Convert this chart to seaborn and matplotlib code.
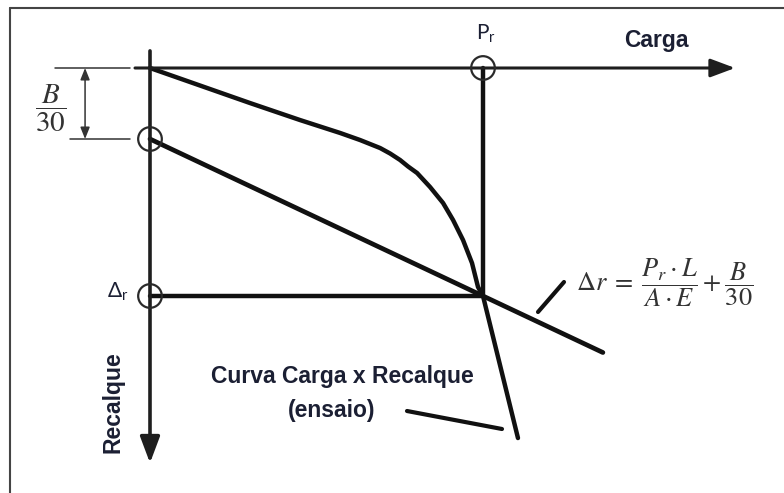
import numpy as np
import pandas as pd
import matplotlib
matplotlib.use("Agg")
import matplotlib.pyplot as plt
from matplotlib.lines import Line2D
import seaborn as sns

# --- data -------------------------------------------------------------
# load test curve (load, settlement), settlement positive downward
carga = [0.0, 30.0, 45.0, 57.1, 63.1, 69.1, 72.1, 75.1, 77.5, 80.2, 84.1,
         88.0, 91.0, 94.0, 96.7, 98.5, 100.0, 105.1, 110.5]
recalque = [0.0, 3.07, 4.56, 5.70, 6.32, 7.02, 7.50, 8.07, 8.64, 9.21, 10.44,
            11.84, 13.33, 15.09, 17.11, 19.21, 20.0, 26.05, 32.46]

P_r = 100.0          # rupture load
delta_r = 20.0       # settlement at rupture
b_30 = 6.23          # B/30 offset
reta_fim = 136.0     # where the offset line stops

curva = pd.DataFrame({"carga": carga, "recalque": recalque})
reta = pd.DataFrame({
    "carga": [0.0, P_r, reta_fim],
    "recalque": [b_30, delta_r, b_30 + (delta_r - b_30) * reta_fim / P_r],
})

# --- figure -----------------------------------------------------------
sns.set_theme(style="white")
plt.rcParams["font.family"] = ["Liberation Sans", "DejaVu Sans"]

W, H = 784, 493
fig = plt.figure(figsize=(W / 100, H / 100), dpi=100)
ax = fig.add_axes([0, 0, 1, 1])
sx, sy = 3.33, 11.4          # pixels per unit of load / settlement
ox, oy = 150, 68             # origin of the diagram
ax.set_xlim(-ox / sx, (W - ox) / sx)
ax.set_ylim((H - oy) / sy, -oy / sy)
ax.axis("off")

INK = "#111111"
TXT = "#1b1f33"

# axes with arrows
ax.annotate("", xy=(175.7, 0), xytext=(-4.5, 0),
            arrowprops=dict(arrowstyle="-|>,head_length=0.75,head_width=0.28",
                            mutation_scale=20, lw=2.2, color="#1e1e1e",
                            shrinkA=0, shrinkB=0))
ax.annotate("", xy=(0, 34.65), xytext=(0, -1.5),
            arrowprops=dict(arrowstyle="-|>,head_length=0.8,head_width=0.3",
                            mutation_scale=20, lw=2.6, color="#1e1e1e",
                            shrinkA=0, shrinkB=0))

# rupture load and settlement guides
sns.lineplot(x=[P_r, P_r], y=[0, delta_r], ax=ax, color=INK, lw=3.2,
             sort=False, estimator=None)
sns.lineplot(x=[0, P_r], y=[delta_r, delta_r], ax=ax, color=INK, lw=3.2,
             sort=False, estimator=None)

# offset line and measured curve
sns.lineplot(data=reta, x="carga", y="recalque", ax=ax, color=INK, lw=3.4,
             sort=False, estimator=None)
sns.lineplot(data=curva, x="carga", y="recalque", ax=ax, color=INK, lw=3.2,
             sort=False, estimator=None)
for ln in ax.get_lines():
    ln.set_solid_joinstyle("round")

# circled points
pts = pd.DataFrame({"carga": [0.0, 0.0, P_r], "recalque": [b_30, delta_r, 0.0]})
ax.scatter(pts["carga"], pts["recalque"], s=290, facecolors="none",
           edgecolors="#2a2a2a", linewidths=1.6, zorder=5)

# B/30 dimension
dim = dict(color="#333333", lw=1.1)
ax.plot([-28.5, -6.0], [0, 0], **dim)
ax.plot([-24.0, -6.0], [b_30, b_30], **dim)
ax.annotate("", xy=(-19.5, 0), xytext=(-19.5, b_30),
            arrowprops=dict(arrowstyle="<|-|>,head_length=0.5,head_width=0.2",
                            mutation_scale=14, lw=1.1, color="#333333",
                            shrinkA=0, shrinkB=0))

# leader lines
ax.plot([(407 - ox) / sx, (502 - ox) / sx], [(411 - oy) / sy, (429 - oy) / sy],
        color=INK, lw=3.0)
ax.plot([(538 - ox) / sx, (564 - ox) / sx], [(312 - oy) / sy, (282 - oy) / sy],
        color=INK, lw=3.0)

# frame
fig.add_artist(Line2D([10 / W, 10 / W], [0, 1 - 8 / H], color="#444444", lw=1.5))
fig.add_artist(Line2D([10 / W, 1], [1 - 8 / H, 1 - 8 / H], color="#444444", lw=1.5))


def ftext(x, y, s, **kw):
    fig.text(x / W, 1 - y / H, s, **kw)


bold = dict(fontweight="bold", color=TXT, fontsize=16.5)
ftext(656, 41, "Carga", ha="center", va="center", **bold)
ftext(342, 377, "Curva Carga x Recalque", ha="center", va="center", **bold)
ftext(332, 410, "(ensaio)", ha="center", va="center", **bold)
ftext(113, 402, "Recalque", ha="center", va="center", rotation=90, **bold)

ftext(486, 34, r"$\mathregular{P_r}$", ha="center", va="center",
      fontsize=15, color=TXT, family=["Lato", "DejaVu Sans"])
ftext(118, 292, r"$\mathregular{Δ_r}$", ha="center", va="center",
      fontsize=15, color=TXT, family=["Lato", "DejaVu Sans"])

ftext(51, 108, r"$\dfrac{B}{30}$", ha="center", va="center",
      fontsize=21, color="#333333", math_fontfamily="stix")
ftext(576, 283, r"$\Delta r\;=\;\dfrac{P_r\cdot L}{A\cdot E}+\dfrac{B}{30}$",
      ha="left", va="center", fontsize=19, color="#333333",
      math_fontfamily="stix")

fig.savefig("out.png", dpi=100, facecolor="white")
